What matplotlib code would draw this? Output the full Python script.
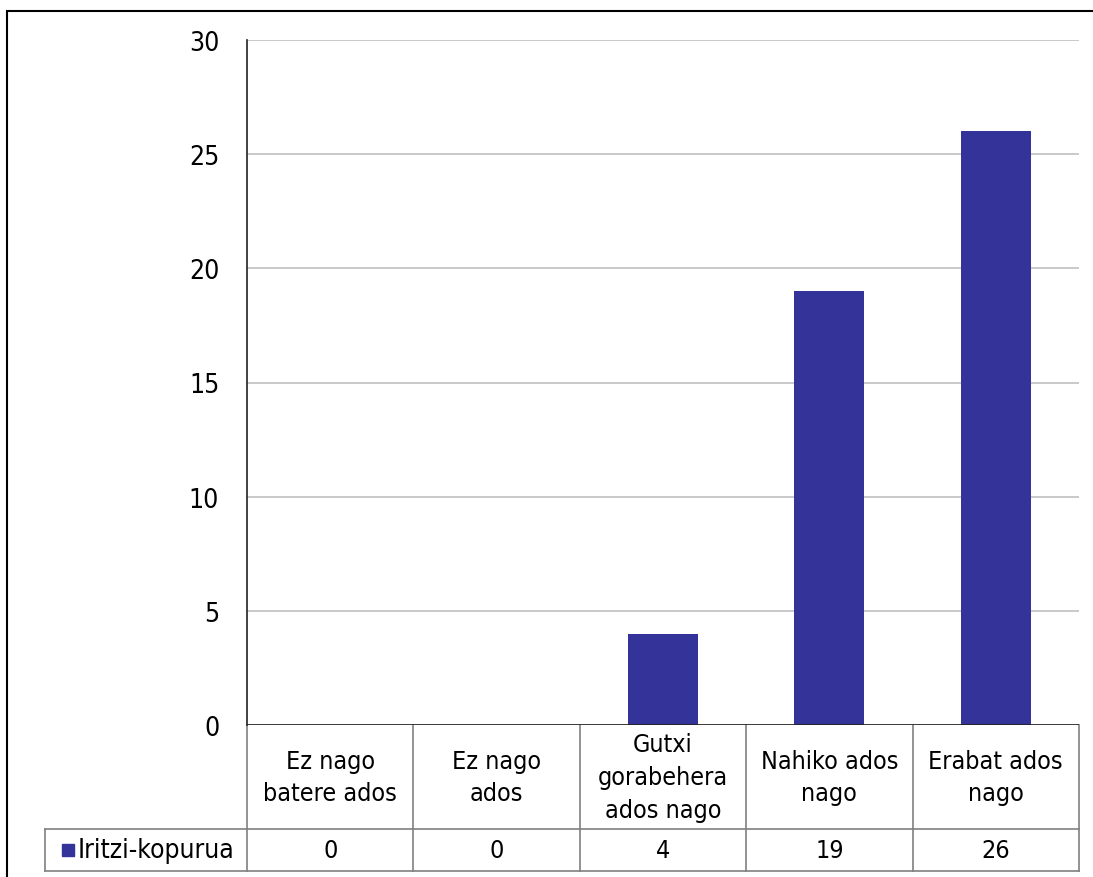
import matplotlib
matplotlib.use('Agg')
import matplotlib.pyplot as plt
from matplotlib.patches import Rectangle
import matplotlib.transforms as mtransforms
import numpy as np

# data
categories = ['Ez nago\nbatere ados', 'Ez nago\nados', 'Gutxi\ngorabehera\nados nago',
              'Nahiko ados\nnago', 'Erabat ados\nnago']
series_name = 'Iritzi-kopurua'
values = [0, 0, 4, 19, 26]
yticks = [0, 5, 10, 15, 20, 25, 30]

bar_color = '#333399'
grid_color = '#c0c0c0'
cell_color = '#808080'
plt.rcParams['font.family'] = ['DejaVu Sans']
plt.rcParams['font.stretch'] = 'condensed'
fs = 18

W, H = 1093, 878
fig = plt.figure(figsize=(W / 100, H / 100), dpi=100)

# plot area in pixels
left, right, top, bottom = 247, 1079, 41, 726
ax_w, ax_h = right - left, bottom - top
col_px = ax_w / len(categories)
ax = fig.add_axes([left / W, 1 - bottom / H, ax_w / W, ax_h / H])

x = np.arange(len(categories))
ax.bar(x, values, width=0.42, color=bar_color, zorder=3)
ax.set_xlim(-0.5, len(categories) - 0.5)
ax.set_ylim(0, 30)
ax.set_yticks(yticks)
ax.set_xticks([])
ax.grid(axis='y', color=grid_color, linewidth=1.2, zorder=0)
ax.tick_params(axis='y', length=0, pad=20, labelsize=19)
for s in ['top', 'right', 'bottom']:
    ax.spines[s].set_visible(False)
ax.spines['left'].set_color('#222222')
ax.spines['left'].set_linewidth(1.2)

# data table under the plot (x in data units, y in axes fraction)
head_h, row_h = 104, 42
y_head = -head_h / ax_h
y_row = -(head_h + row_h) / ax_h
x_lab = -0.5 - (left - 45) / col_px
trans = mtransforms.blended_transform_factory(ax.transData, ax.transAxes)
kw = dict(color=cell_color, linewidth=1.2, transform=trans, clip_on=False)

# horizontal lines
ax.plot([x_lab, len(categories) - 0.5], [y_head, y_head], **kw)
ax.plot([x_lab, len(categories) - 0.5], [y_row, y_row], **kw)
# vertical lines
for b in np.arange(len(categories) + 1) - 0.5:
    ax.plot([b, b], [0, y_row], **kw)
ax.plot([x_lab, x_lab], [y_head, y_row], **kw)

y_mid = (y_head + y_row) / 2
for i, (c, v) in enumerate(zip(categories, values)):
    ax.text(i, y_head / 2, c, ha='center', va='center', fontsize=fs,
            linespacing=1.45, transform=trans, clip_on=False)
    ax.text(i, y_mid, str(v), ha='center', va='center', fontsize=fs,
            transform=trans, clip_on=False)

# row label with legend key
ax.plot([x_lab + 23.5 / col_px], [y_mid], marker='s', markersize=8.5, color=bar_color,
        transform=trans, clip_on=False)
ax.text(x_lab + 33 / col_px, y_mid, series_name, ha='left', va='center',
        fontsize=fs + 1, transform=trans, clip_on=False)

# dark baseline at zero
ax.axhline(0, color='#222222', linewidth=1.2, zorder=4)

# outer chart border (only top and left visible)
fig.add_artist(Rectangle((7 / W, -0.1), 1.2, 1 - 12 / H + 0.1, transform=fig.transFigure,
                         fill=False, edgecolor='black', linewidth=1.5))

fig.savefig('out.png', dpi=100)
